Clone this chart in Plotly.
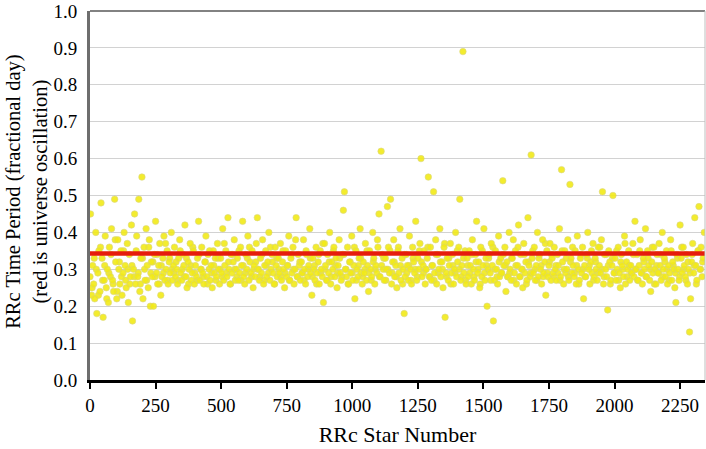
import plotly.graph_objects as go

# star numbers for the main sample (every 4th star)
star = list(range(2, 2346, 4))

# period in fractional day, 20 stars per row
period = [
    0.45, 0.23, 0.31, 0.26, 0.22, 0.40, 0.18, 0.29, 0.35, 0.24, 0.48, 0.33, 0.17, 0.27, 0.39, 0.25, 0.30, 0.21, 0.36, 0.28,
    0.41, 0.27, 0.24, 0.49, 0.32, 0.22, 0.38, 0.30, 0.26, 0.35, 0.23, 0.29, 0.40, 0.31, 0.25, 0.37, 0.21, 0.34, 0.28, 0.42,
    0.16, 0.30, 0.45, 0.26, 0.39, 0.28, 0.49, 0.24, 0.33, 0.55, 0.22, 0.36, 0.27, 0.41, 0.31, 0.25, 0.38, 0.20, 0.32, 0.28,
    0.20, 0.34, 0.43, 0.29, 0.26, 0.31, 0.37, 0.23, 0.28, 0.33, 0.39, 0.27, 0.30, 0.35, 0.26, 0.32, 0.29, 0.40, 0.27, 0.31,
    0.36, 0.28, 0.30, 0.26, 0.33, 0.38, 0.29, 0.27, 0.34, 0.31, 0.42, 0.28, 0.25, 0.32, 0.30, 0.37, 0.27, 0.29, 0.35, 0.26,
    0.31, 0.28, 0.33, 0.43, 0.27, 0.30, 0.36, 0.29, 0.26, 0.32, 0.39, 0.28, 0.34, 0.30, 0.27, 0.31, 0.25, 0.35, 0.29, 0.33,
    0.28, 0.37, 0.30, 0.26, 0.33, 0.29, 0.41, 0.27, 0.31, 0.35, 0.28, 0.44, 0.30, 0.26, 0.34, 0.29, 0.32, 0.38, 0.27, 0.30,
    0.33, 0.27, 0.29, 0.36, 0.31, 0.43, 0.28, 0.26, 0.34, 0.30, 0.39, 0.27, 0.32, 0.29, 0.35, 0.25, 0.31, 0.28, 0.37, 0.44,
    0.30, 0.27, 0.33, 0.29, 0.38, 0.26, 0.31, 0.35, 0.28, 0.32, 0.40, 0.27, 0.30, 0.34, 0.29, 0.26, 0.36, 0.31, 0.28, 0.33,
    0.29, 0.37, 0.27, 0.32, 0.30, 0.25, 0.35, 0.28, 0.31, 0.39, 0.27, 0.33, 0.29, 0.36, 0.26, 0.30, 0.44, 0.28, 0.34, 0.31,
    0.27, 0.32, 0.29, 0.38, 0.30, 0.26, 0.34, 0.28, 0.31, 0.41, 0.29, 0.23, 0.33, 0.30, 0.27, 0.36, 0.29, 0.32, 0.26, 0.35,
    0.30, 0.28, 0.21, 0.37, 0.31, 0.27, 0.34, 0.29, 0.40, 0.26, 0.32, 0.30, 0.36, 0.28, 0.33, 0.25, 0.31, 0.38, 0.29, 0.27,
    0.34, 0.46, 0.51, 0.30, 0.28, 0.36, 0.26, 0.32, 0.29, 0.39, 0.27, 0.31, 0.22, 0.35, 0.30, 0.28, 0.33, 0.41, 0.29, 0.26,
    0.32, 0.29, 0.37, 0.27, 0.31, 0.24, 0.35, 0.30, 0.28, 0.40, 0.33, 0.26, 0.31, 0.29, 0.36, 0.45, 0.28, 0.62, 0.34, 0.30,
    0.27, 0.33, 0.30, 0.47, 0.36, 0.29, 0.49, 0.26, 0.32, 0.38, 0.28, 0.31, 0.25, 0.35, 0.29, 0.41, 0.27, 0.33, 0.30, 0.18,
    0.28, 0.34, 0.31, 0.27, 0.39, 0.30, 0.26, 0.36, 0.32, 0.29, 0.43, 0.27, 0.33, 0.30, 0.37, 0.60, 0.28, 0.31, 0.35, 0.26,
    0.30, 0.33, 0.55, 0.28, 0.36, 0.27, 0.31, 0.51, 0.29, 0.38, 0.26, 0.34, 0.30, 0.41, 0.28, 0.32, 0.25, 0.36, 0.17, 0.29,
    0.33, 0.27, 0.31, 0.37, 0.29, 0.34, 0.26, 0.30, 0.40, 0.28, 0.32, 0.36, 0.49, 0.27, 0.31, 0.89, 0.29, 0.35, 0.26, 0.33,
    0.28, 0.35, 0.31, 0.26, 0.38, 0.30, 0.27, 0.34, 0.43, 0.29, 0.32, 0.25, 0.36, 0.28, 0.31, 0.41, 0.27, 0.33, 0.20, 0.30,
    0.34, 0.29, 0.37, 0.31, 0.16, 0.27, 0.35, 0.30, 0.26, 0.39, 0.28, 0.33, 0.29, 0.54, 0.31, 0.36, 0.24, 0.32, 0.28, 0.40,
    0.30, 0.27, 0.33, 0.38, 0.29, 0.35, 0.26, 0.31, 0.42, 0.28, 0.34, 0.30, 0.25, 0.37, 0.29, 0.32, 0.27, 0.44, 0.31, 0.28,
    0.61, 0.33, 0.29, 0.36, 0.27, 0.31, 0.40, 0.28, 0.34, 0.30, 0.26, 0.38, 0.29, 0.32, 0.23, 0.35, 0.28, 0.31, 0.37, 0.27,
    0.33, 0.29, 0.36, 0.30, 0.27, 0.34, 0.31, 0.41, 0.28, 0.57, 0.32, 0.26, 0.35, 0.29, 0.30, 0.38, 0.27, 0.53, 0.33, 0.29,
    0.31, 0.28, 0.35, 0.26, 0.39, 0.30, 0.27, 0.33, 0.29, 0.36, 0.22, 0.31, 0.28, 0.34, 0.40, 0.30, 0.26, 0.32, 0.29, 0.37,
    0.28, 0.33, 0.30, 0.27, 0.36, 0.31, 0.29, 0.38, 0.51, 0.26, 0.34, 0.30, 0.28, 0.19, 0.35, 0.32, 0.27, 0.31, 0.50, 0.29,
    0.33, 0.27, 0.30, 0.36, 0.29, 0.25, 0.34, 0.31, 0.28, 0.39, 0.26, 0.32, 0.30, 0.35, 0.27, 0.31, 0.29, 0.37, 0.28, 0.43,
    0.30, 0.34, 0.27, 0.31, 0.38, 0.29, 0.26, 0.33, 0.30, 0.41, 0.28, 0.35, 0.31, 0.27, 0.24, 0.32, 0.29, 0.36, 0.30, 0.26,
    0.34, 0.29, 0.37, 0.31, 0.27, 0.40, 0.30, 0.33, 0.28, 0.35, 0.26, 0.31, 0.29, 0.38, 0.27, 0.32, 0.30, 0.25, 0.21, 0.34,
    0.30, 0.27, 0.42, 0.33, 0.29, 0.36, 0.31, 0.28, 0.34, 0.26, 0.30, 0.13, 0.22, 0.32, 0.37, 0.29, 0.44, 0.31, 0.27, 0.35,
    0.47, 0.30, 0.36, 0.28, 0.33, 0.40,
]

# second sample of the dense band (every 8th star, offset)
star_b = list(range(0, 2344, 8))
period_b = [
    0.28, 0.25, 0.33, 0.30, 0.23, 0.36, 0.27, 0.31, 0.22, 0.29, 0.34, 0.26, 0.38, 0.24, 0.32, 0.28, 0.35, 0.27, 0.30, 0.26,
    0.31, 0.28, 0.35, 0.29, 0.26, 0.33, 0.30, 0.27, 0.36, 0.29, 0.32, 0.28, 0.34, 0.26, 0.31, 0.29, 0.37, 0.27, 0.33, 0.30,
    0.29, 0.32, 0.27, 0.35, 0.30, 0.28, 0.33, 0.26, 0.31, 0.36, 0.29, 0.27, 0.34, 0.30, 0.28, 0.32, 0.26, 0.35, 0.29, 0.31,
    0.27, 0.33, 0.30, 0.28, 0.37, 0.29, 0.32, 0.26, 0.34, 0.30, 0.28, 0.35, 0.27, 0.31, 0.29, 0.33, 0.36, 0.28, 0.30, 0.32,
    0.30, 0.28, 0.34, 0.27, 0.31, 0.29, 0.36, 0.32, 0.26, 0.33, 0.30, 0.28, 0.35, 0.29, 0.31, 0.27, 0.34, 0.30, 0.38, 0.28,
    0.32, 0.29, 0.27, 0.35, 0.30, 0.33, 0.28, 0.31, 0.26, 0.34, 0.29, 0.37, 0.30, 0.27, 0.32, 0.28, 0.35, 0.31, 0.29, 0.33,
    0.28, 0.34, 0.30, 0.26, 0.32, 0.29, 0.36, 0.27, 0.31, 0.33, 0.28, 0.30, 0.35, 0.29, 0.27, 0.32, 0.30, 0.38, 0.28, 0.31,
    0.33, 0.27, 0.30, 0.35, 0.29, 0.32, 0.28, 0.36, 0.31, 0.26, 0.34, 0.29, 0.31, 0.27, 0.33, 0.30, 0.28, 0.35, 0.32, 0.29,
    0.30, 0.36, 0.28, 0.31, 0.27, 0.34, 0.29, 0.32, 0.30, 0.37, 0.28, 0.33, 0.26, 0.31, 0.29, 0.35, 0.30, 0.28, 0.33, 0.27,
    0.31, 0.29, 0.34, 0.28, 0.32, 0.30, 0.26, 0.35, 0.29, 0.31, 0.33, 0.27, 0.36, 0.30, 0.28, 0.32, 0.29, 0.34, 0.31, 0.28,
    0.29, 0.33, 0.27, 0.31, 0.36, 0.28, 0.30, 0.34, 0.26, 0.32, 0.29, 0.35, 0.30, 0.27, 0.33, 0.31, 0.28, 0.37, 0.29, 0.32,
    0.34, 0.28, 0.31, 0.29, 0.27, 0.35, 0.30, 0.33, 0.28, 0.32, 0.36, 0.29, 0.31, 0.26, 0.34, 0.30, 0.28, 0.33, 0.31, 0.35,
    0.27, 0.32, 0.29, 0.36, 0.30, 0.28, 0.34, 0.31, 0.26, 0.33, 0.29, 0.35, 0.27, 0.32, 0.30, 0.37, 0.28, 0.31, 0.29, 0.34,
    0.30, 0.27, 0.35, 0.29, 0.32, 0.28, 0.33, 0.30, 0.36, 0.26, 0.31, 0.29, 0.34, 0.28, 0.32, 0.30, 0.27, 0.35, 0.31, 0.29,
    0.33, 0.28, 0.36, 0.30, 0.27, 0.32, 0.29, 0.34, 0.31, 0.26, 0.35, 0.30, 0.32,
]

# universe oscillation period (red line)
universe_star = [0, 2345]
universe_period = [0.343, 0.343]

tick_stars = [0, 250, 500, 750, 1000, 1250, 1500, 1750, 2000, 2250]

yellow = dict(size=6.5, color='rgb(242,234,24)', opacity=0.9,
              line=dict(color='rgb(214,212,120)', width=0.6))

fig = go.Figure()
fig.add_trace(go.Scatter(x=star_b, y=period_b, mode='markers', marker=yellow, showlegend=False))
fig.add_trace(go.Scatter(x=star, y=period, mode='markers', marker=yellow, showlegend=False))
fig.add_trace(go.Scatter(
    x=universe_star, y=universe_period, mode='lines',
    line=dict(color='rgb(230,28,12)', width=4.5),
    showlegend=False,
))

serif = 'Liberation Serif'
fig.update_layout(
    width=706, height=449,
    margin=dict(l=90, r=1, t=11, b=69),
    paper_bgcolor='white', plot_bgcolor='white',
    font=dict(family=serif, size=19, color='black'),
    xaxis=dict(
        range=[0, 2345], tickvals=tick_stars, ticks='outside', ticklen=6,
        tickwidth=2, tickcolor='black', showgrid=False, zeroline=False,
        showline=True, linecolor='black', linewidth=3, automargin=False,
        tickfont=dict(family=serif, size=19),
        title=dict(text='RRc Star Number', font=dict(family=serif, size=22), standoff=12),
    ),
    yaxis=dict(
        range=[0, 1.0], dtick=0.1, tickformat='.1f', ticks='',
        showgrid=True, gridcolor='rgb(210,210,210)', gridwidth=1, automargin=False,
        zeroline=False, showline=True, linecolor='rgb(110,110,110)', linewidth=3,
        tickfont=dict(family=serif, size=19), ticklabelstandoff=6,
    ),
    annotations=[dict(
        text='RRc Time Period (fractional day)<br>(red is universe oscillation)',
        xref='paper', yref='paper', x=-63 / 615, y=0.51,
        xanchor='center', yanchor='middle', textangle=-90, showarrow=False,
        font=dict(family=serif, size=20.5),
    )],
)
# top and right frame of the plot area
fig.add_shape(type='line', xref='paper', yref='paper', x0=0, x1=1, y0=1, y1=1,
              line=dict(color='rgb(130,130,130)', width=2))
fig.add_shape(type='line', xref='paper', yref='paper', x0=1, x1=1, y0=0, y1=1,
              line=dict(color='rgb(190,190,190)', width=1))

# drop the default page margin so the figure fills the window
fig.write_html("out.html", config={'displayModeBar': False},
               post_script="document.body.style.margin = '0';")
